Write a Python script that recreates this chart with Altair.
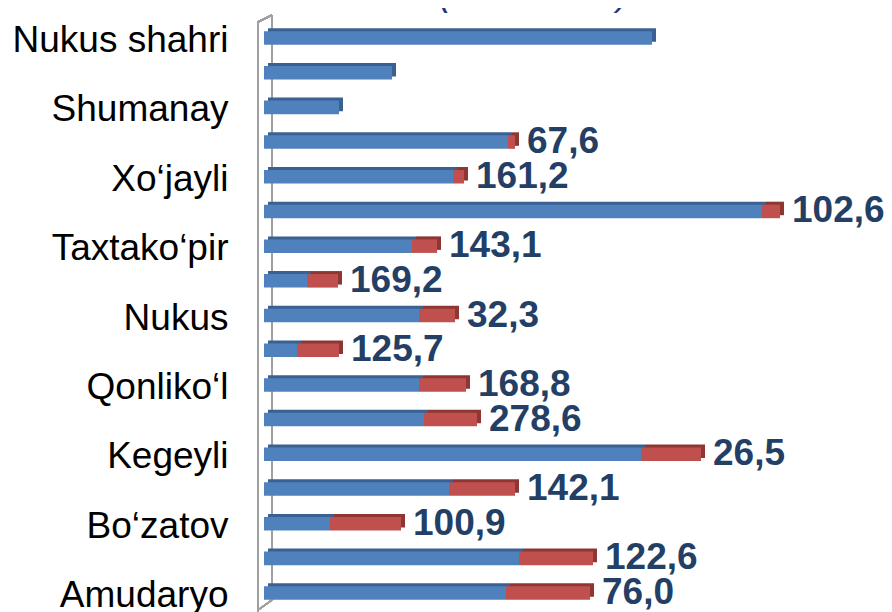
import altair as alt
import pandas as pd

# Categories, top to bottom (only every other one is labelled in the chart)
categories = ["Nukus shahri", "Ellikqal‘a", "Shumanay", "Chimboy", "Xo‘jayli",
              "To‘rtko‘l", "Taxtako‘pir", "Taxiatosh", "Nukus", "Mo‘ynoq",
              "Qonliko‘l", "Qo‘ng‘irot", "Kegeyli", "Qorao‘zak", "Bo‘zatov",
              "Beruniy", "Amudaryo"]
shown_labels = ["Nukus shahri", "Shumanay", "Xo‘jayli", "Taxtako‘pir", "Nukus",
                "Qonliko‘l", "Kegeyli", "Bo‘zatov", "Amudaryo"]
blue_values = [194, 64, 37.5, 122, 94.5, 249, 74, 21.5, 77.5, 16.5, 77.5, 80,
               188.5, 92.5, 33, 127.5, 121]
red_values = [0, 0, 0, 3.5, 5.5, 9, 12.5, 15.5, 18, 21, 23.5, 26.5, 30, 33,
              35.5, 37, 42]
value_labels = ["", "", "", "67,6", "161,2", "102,6", "143,1", "169,2", "32,3",
                "125,7", "168,8", "278,6", "26,5", "142,1", "100,9", "122,6", "76,0"]
title_text = "(mlrd. so‘m)"

df = pd.DataFrame({
    "cat": categories,
    "blue": blue_values,
    "red": red_values,
    "label": value_labels,
})
df["total"] = df["blue"] + df["red"]
df["zero"] = 0.0

FONT = "Liberation Sans"
NAVY = "#243F66"

xscale = alt.Scale(domain=[0, 310], nice=False, zero=True)
yscale = alt.Scale(domain=categories, range=[12.65, 602.4],
                   paddingInner=0.61, paddingOuter=0.305)

show_expr = "indexof([" + ",".join("'" + s + "'" for s in shown_labels) + \
    "], datum.label) >= 0 ? datum.label : ''"

y_axis = alt.Axis(labelExpr=show_expr, labelFont=FONT, labelFontSize=37,
                  labelColor="#000000", labelPadding=36, labelOffset=3,
                  labelLimit=0, ticks=False, tickSize=0, domain=False,
                  grid=False, labelOverlap=False, labelBound=False)
y_enc = alt.Y("cat:N", scale=yscale, sort=categories, title=None, axis=y_axis)

base = alt.Chart(df)

blue_shadow = base.mark_bar(color="#3A6193", xOffset=4, x2Offset=4,
                            yOffset=-3, y2Offset=-3).encode(
    x=alt.X("zero:Q", scale=xscale, axis=None), x2="blue:Q", y=y_enc)
red_shadow = base.mark_bar(color="#8E3634", xOffset=4, x2Offset=4,
                           yOffset=-3, y2Offset=-3).encode(
    x=alt.X("blue:Q", scale=xscale, axis=None), x2="total:Q", y=y_enc)
blue_front = base.mark_bar(color="#4F81BD").encode(
    x=alt.X("zero:Q", scale=xscale, axis=None), x2="blue:Q", y=y_enc)
red_front = base.mark_bar(color="#C0504D").encode(
    x=alt.X("blue:Q", scale=xscale, axis=None), x2="total:Q", y=y_enc)

labels = base.mark_text(align="left", baseline="middle", dx=12, font=FONT,
                        fontSize=37, fontWeight="bold", color=NAVY).encode(
    x=alt.X("total:Q", scale=xscale, axis=None), y=y_enc, text="label:N")

# 3D wall outline (decoration)
wall_color = "#A0A0A0"
wall_front = alt.Chart(df).mark_rule(color=wall_color, strokeWidth=1.5).encode(
    x=alt.value(-6), y=alt.value(14), y2=alt.value(604))
wall_back = alt.Chart(df).mark_rule(color=wall_color, strokeWidth=1.5).encode(
    x=alt.value(8), y=alt.value(7), y2=alt.value(592))
wall_top = alt.Chart(df).mark_rule(color=wall_color, strokeWidth=1.5).encode(
    x=alt.value(-6), x2=alt.value(8), y=alt.value(14), y2=alt.value(7))
wall_bot = alt.Chart(df).mark_rule(color=wall_color, strokeWidth=1.5).encode(
    x=alt.value(8), x2=alt.value(-6), y=alt.value(592), y2=alt.value(602))

title = alt.Chart(pd.DataFrame({"t": [title_text]})).mark_text(
    align="center", baseline="alphabetic", font=FONT, fontSize=36,
    fontStyle="italic", color="#1F3A78").encode(
    x=alt.value(270), y=alt.value(-3), text="t:N")

chart = alt.layer(
    wall_back, wall_front, wall_top, wall_bot,
    blue_shadow, red_shadow, blue_front, red_front, labels, title
).properties(
    width=620, height=604,
    autosize=alt.AutoSizeParams(type="none"),
    padding={"left": 256, "top": 0, "right": 0, "bottom": 0},
).configure_view(stroke=None)

chart.save("out.html", embed_options={"renderer": "svg", "actions": False})
